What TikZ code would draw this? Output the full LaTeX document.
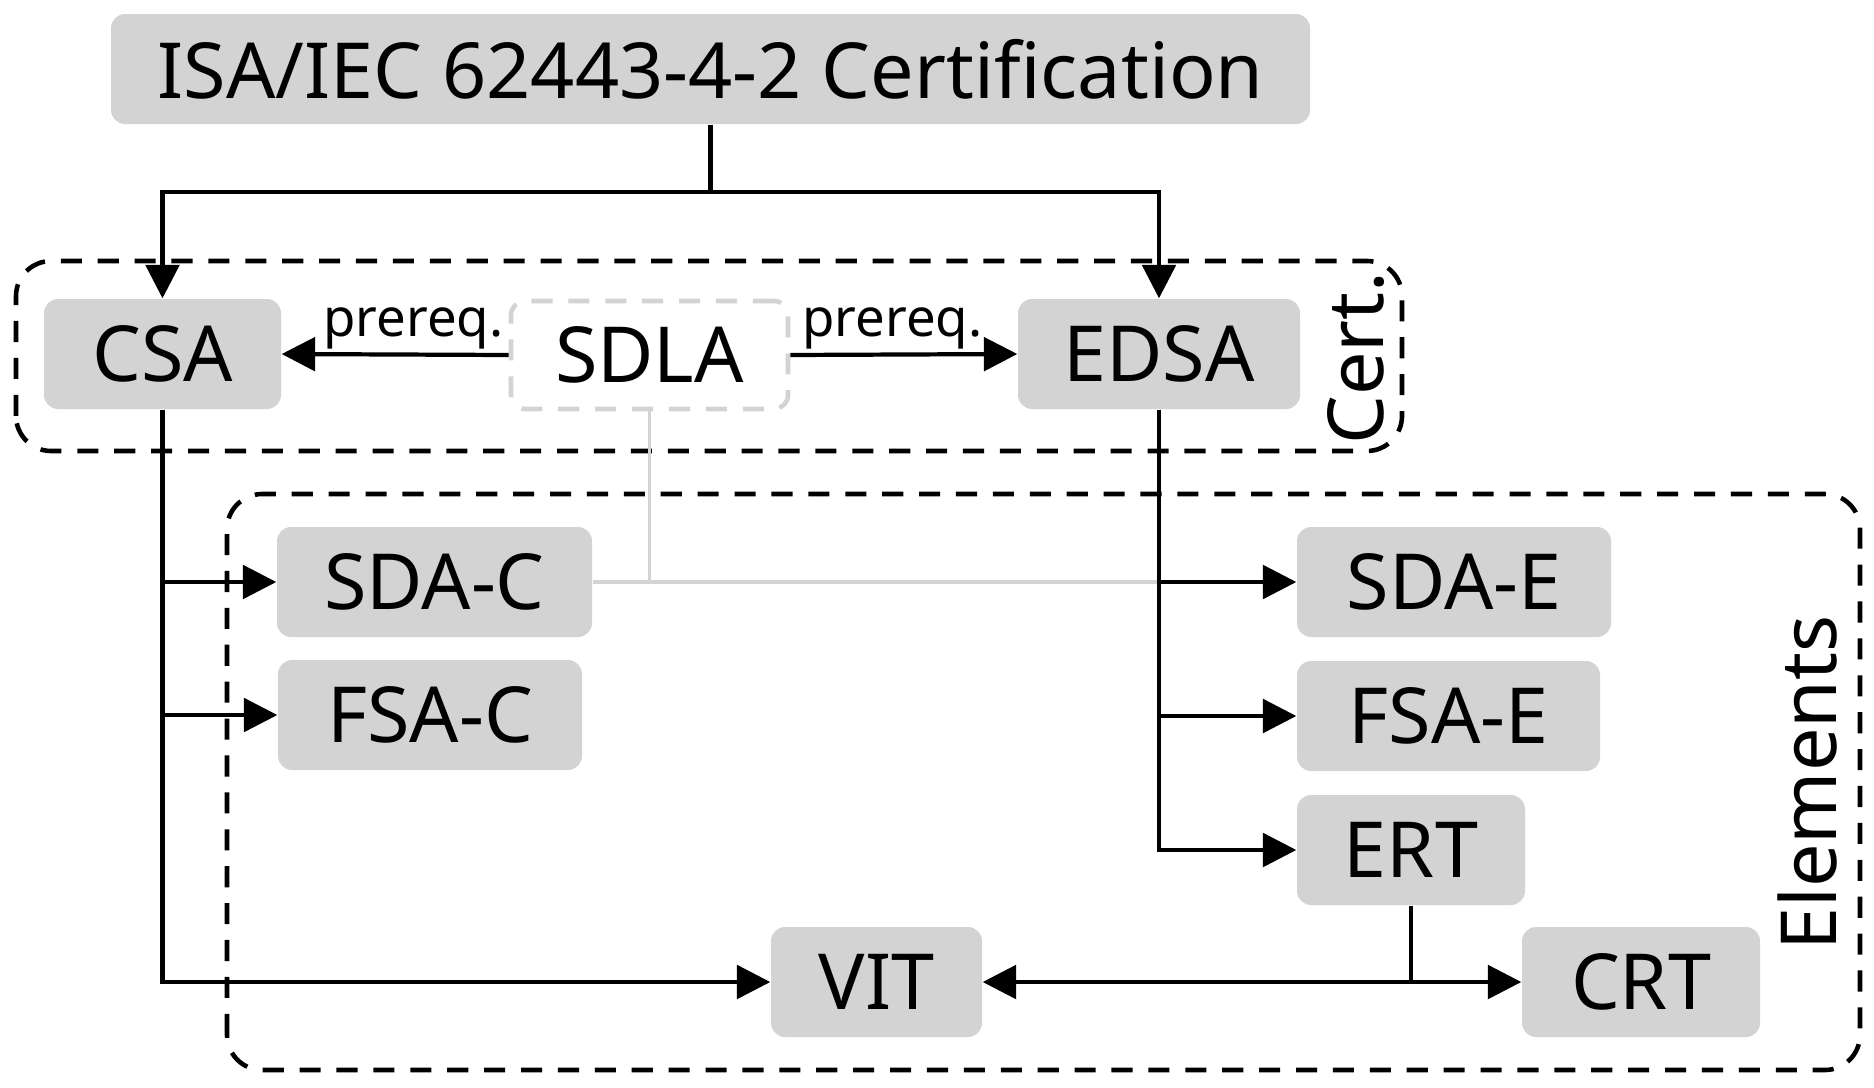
\documentclass[tikz,border=0pt]{standalone}
\usepackage{fontspec}
\setmainfont{Noto Sans}
\usetikzlibrary{arrows.meta}
\definecolor{boxgray}{HTML}{D3D3D3}
\tikzset{box/.style={fill=boxgray,rounded corners=4pt,inner sep=0pt,minimum height=1.10cm,font=\fontsize{22}{26}\selectfont},
arr/.style={-{Triangle[length=9.5pt,width=9.5pt]},line width=1.2pt},
grp/.style={dashed,dash pattern=on 6pt off 4.5pt,line width=1.3pt,rounded corners=10pt}}
\begin{document}
\begin{tikzpicture}
\useasboundingbox(0,0)rectangle(18.74,10.87);
%% groups
\draw[grp](0.16,6.36)rectangle(14.02,8.26);
\draw[grp](2.27,0.17)rectangle(18.60,5.93);
\node[rotate=90,font=\fontsize{22}{26}\selectfont](certlbl)at(13.56,7.29){Cert.};
\node[rotate=90,font=\fontsize{22}{26}\selectfont](elemlbl)at(18.07,3.04){Elements};
%% nodes
\node[box,minimum width=11.99cm](top)at(7.105,10.18){ISA/IEC 62443-4-2 Certification};
\node[box,minimum width=2.37cm](csa)at(1.625,7.33){CSA};
\node[box,fill=white,draw=boxgray,dashed,dash pattern=on 6pt off 4.5pt,line width=1.3pt,minimum width=2.77cm,minimum height=1.08cm](sdla)at(6.495,7.32){SDLA};
\node[box,minimum width=2.82cm](edsa)at(11.59,7.33){EDSA};
\node[box,minimum width=3.15cm](sdac)at(4.345,5.05){SDA-C};
\node[box,minimum width=3.04cm](fsac)at(4.30,3.72){FSA-C};
\node[box,minimum width=3.14cm](sdae)at(14.54,5.05){SDA-E};
\node[box,minimum width=3.03cm](fsae)at(14.485,3.71){FSA-E};
\node[box,minimum width=2.28cm](ert)at(14.11,2.37){ERT};
\node[box,minimum width=2.11cm](vit)at(8.765,1.05){VIT};
\node[box,minimum width=2.38cm](crt)at(16.41,1.05){CRT};
%% connectors
\coordinate(split)at(7.105,8.95);
\coordinate(sdlajoin)at(11.59,5.05);
\draw[boxgray,line width=1.1pt](sdla.south)|-(sdac.east)
(sdla.south)|-(sdlajoin);
\draw[line width=1.2pt](top.south)--(split);
\draw[arr](split)-|(csa.north);
\draw[arr](split)-|(edsa.north);
\draw[arr](sdla.west)--node[pos=0.42,above,inner sep=1pt,font=\fontsize{15}{18}\selectfont](preqc){prereq.}(csa.east);
\draw[arr](sdla.east)--node[pos=0.45,above,inner sep=1pt,font=\fontsize{15}{18}\selectfont](preqe){prereq.}(edsa.west);
\draw[arr](csa.south)|-(sdac.west);
\draw[arr](csa.south)|-(fsac.west);
\draw[arr](csa.south)|-(vit.west);
\draw[arr](edsa.south)|-(sdae.west);
\draw[arr](edsa.south)|-(fsae.west);
\draw[arr](edsa.south)|-(ert.west);
\draw[arr](ert.south)|-(vit.east);
\draw[arr](ert.south)|-(crt.west);
\end{tikzpicture}
\end{document}
